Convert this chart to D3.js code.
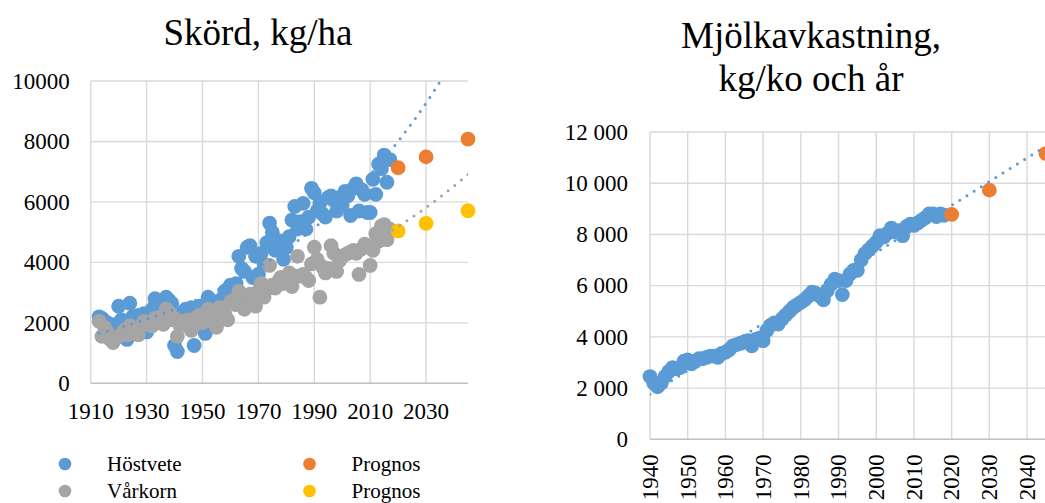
<!DOCTYPE html>
<html>
<head>
<meta charset="utf-8">
<script src="https://cdn.jsdelivr.net/npm/d3@7"></script>
<style>
body { margin: 0; background: #fff; }
text { font-family: "Liberation Serif", "Times New Roman", serif; fill: #000; }
</style>
</head>
<body>
<script>
// ---- data: Skörd, kg/ha ----
var hostveteStart = 1913;
var hostvete = [2200, 2150, 2050, 2000, 1750, 1600, 1950, 2550, 2100, 1900,
    1450, 2650, 2200, 2100, 2250, 2050, 2300, 1700, 2200, 2450,
    2800, 2600, 2500, 2300, 2850, 2750, 2650, 1250, 1050, 2100,
    2350, 2450, 2300, 2500, 1250, 2400, 2550, 2300, 1650, 2850,
    2750, 2200, 2600, 2400, 2800, 3050, 3100, 3250, 3000, 3300,
    4200, 3800, 3700, 4500, 4550, 3500, 4200, 3600, 4300, 3950,
    4650, 5300, 5000, 4400, 4600, 4700, 4100, 4500, 4850, 5400,
    5850, 5100, 5350, 5950, 5100, 5500, 6450, 6300, 5700, 5950,
    5600, 5500, 6150, 6200, 6050, 5700, 6150, 5900, 6350, 6200,
    5550, 6450, 6600, 5700, 6400, 6250, 5650, 5650, 6750, 6250,
    7250, 7100, 7550, 6650, 7400];

var varkornStart = 1913;
var varkorn = [2050, 1550, 1850, 1700, 1450, 1350, 1500, 1550, 1650, 1750,
    1600, 1900, 1800, 1650, 1600, 1900, 2050, 1950, 2000, 1900,
    2150, 2100, 2200, 1950, 2450, 2350, 2100, 2150, 1550, 1900,
    2050, 1950, 2100, 1750, 1900, 2200, 2250, 2000, 2100, 2450,
    2300, 2150, 1850, 2500, 2400, 2300, 2100, 2700, 2750, 2600,
    3050, 2850, 2450, 2800, 2950, 2900, 2550, 3050, 3300, 2850,
    3100, 3900, 3250, 3150, 3350, 3500, 3300, 3450, 3650, 3200,
    3550, 4200, 3550, 3600, 3500, 3400, 3950, 4500, 4100, 2850,
    3850, 3650, 3800, 4550, 4300, 3700, 4050, 4200, 4250, 4300,
    4350, 4400, 4300, 3600, 4450, 4600, 4550, 3900, 4400, 4950,
    4700, 5200, 5250, 4750, 5100];

var prognosYears = [2020, 2030, 2045];
var prognosHostvete = [7130, 7490, 8080];
var prognosVarkorn = [5040, 5290, 5710];

var skordXTicks = [1910, 1930, 1950, 1970, 1990, 2010, 2030];
var skordYTicks = [0, 2000, 4000, 6000, 8000, 10000];

// ---- data: Mjölkavkastning, kg/ko och år ----
var mjolkStart = 1940;
var mjolk = [2450, 2200, 2050, 2200, 2450, 2650, 2800, 2750, 2800, 3050,
    3100, 2950, 3050, 3150, 3150, 3200, 3250, 3250, 3200, 3350,
    3400, 3500, 3650, 3700, 3750, 3800, 3850, 3650, 3900, 3950,
    3850, 4250, 4450, 4550, 4500, 4700, 4850, 5000, 5150, 5250,
    5350, 5450, 5600, 5750, 5700, 5600, 5450, 5800, 6050, 6250,
    6200, 5650, 6200, 6450, 6600, 6600, 7000, 7250, 7400, 7550,
    7700, 7950, 7900, 8050, 8250, 8100, 8150, 7950, 8300, 8400,
    8350, 8450, 8550, 8650, 8800, 8800, 8700, 8800, 8750];
var prognosMjolk = [8780, 9730, 11160];

var mjolkXTicks = [1940, 1950, 1960, 1970, 1980, 1990, 2000, 2010, 2020, 2030, 2040];
var mjolkYTicks = [0, 2000, 4000, 6000, 8000, 10000, 12000];

var blue = "#5B9BD5", gray = "#A5A5A5", orange = "#ED7D31", yellow = "#FFC000";
var gridColor = "#D9D9D9";
var serif = '"Liberation Serif", "Times New Roman", serif';

function toPoints(start, values) {
    return values.map(function (v, i) { return { x: start + i, y: v }; });
}
function zipPts(xs, ys) {
    return xs.map(function (d, i) { return { x: d, y: ys[i] }; });
}

// least squares, Excel style trend lines
function linFit(pts) {
    var mx = d3.mean(pts, function (d) { return d.x; });
    var my = d3.mean(pts, function (d) { return d.y; });
    var sxy = d3.sum(pts, function (d) { return (d.x - mx) * (d.y - my); });
    var sxx = d3.sum(pts, function (d) { return (d.x - mx) * (d.x - mx); });
    var b = sxy / sxx;
    return function (x) { return my + b * (x - mx); };
}
function expFit(pts) {
    var f = linFit(pts.map(function (d) { return { x: d.x, y: Math.log(d.y) }; }));
    return function (x) { return Math.exp(f(x)); };
}

var svg = d3.select("body").append("svg")
    .attr("width", 1045)
    .attr("height", 503);

var defs = svg.append("defs");

function panel(opt) {
    var x = d3.scaleLinear().domain(opt.xDomain).range(opt.xRange);
    var y = d3.scaleLinear().domain(opt.yDomain).range(opt.yRange);

    defs.append("clipPath").attr("id", opt.id + "-clip")
        .append("rect")
        .attr("x", opt.xRange[0]).attr("y", opt.yRange[1])
        .attr("width", opt.xRange[1] - opt.xRange[0])
        .attr("height", opt.yRange[0] - opt.yRange[1]);

    var g = svg.append("g").attr("id", opt.id);

    // horizontal grid
    g.append("g").selectAll("line")
        .data(opt.yTicks.slice(1))
        .enter().append("line")
        .attr("x1", opt.xRange[0]).attr("x2", opt.xRange[1])
        .attr("y1", function (d) { return y(d); })
        .attr("y2", function (d) { return y(d); })
        .attr("stroke", gridColor).attr("stroke-width", 1.4);

    // vertical grid
    g.append("g").selectAll("line")
        .data(opt.xTicks)
        .enter().append("line")
        .attr("x1", function (d) { return x(d); })
        .attr("x2", function (d) { return x(d); })
        .attr("y1", opt.yRange[0]).attr("y2", opt.yRange[1])
        .attr("stroke", gridColor).attr("stroke-width", 1.4);

    // bottom axis line
    g.append("line")
        .attr("x1", opt.xRange[0]).attr("x2", opt.xRange[1])
        .attr("y1", opt.yRange[0]).attr("y2", opt.yRange[0])
        .attr("stroke", "#BFBFBF").attr("stroke-width", 1.4);

    // y labels
    g.append("g").selectAll("text")
        .data(opt.yTicks)
        .enter().append("text")
        .attr("x", opt.xRange[0] - opt.yLabelGap)
        .attr("y", function (d) { return y(d); })
        .attr("dy", "0.34em")
        .attr("text-anchor", "end")
        .attr("font-family", serif)
        .attr("font-size", 23)
        .text(opt.yFormat);

    // x labels
    var xl = g.append("g").selectAll("text")
        .data(opt.xTicks)
        .enter().append("text")
        .attr("font-family", serif)
        .attr("font-size", 23)
        .text(function (d) { return String(d); });
    if (opt.rotateX) {
        xl.attr("transform", function (d) {
                return "translate(" + x(d) + "," + (opt.yRange[0] + 15) + ") rotate(-90)";
            })
            .attr("text-anchor", "end")
            .attr("dy", "0.34em");
    } else {
        xl.attr("x", function (d) { return x(d); })
            .attr("y", opt.yRange[0] + 36)
            .attr("text-anchor", "middle");
    }

    // points
    opt.series.forEach(function (s) {
        g.append("g").selectAll("circle")
            .data(s.points)
            .enter().append("circle")
            .attr("cx", function (d) { return x(d.x); })
            .attr("cy", function (d) { return y(d.y); })
            .attr("r", 7.4)
            .attr("fill", s.color);
    });

    // trend lines drawn on top
    opt.trends.forEach(function (t) {
        var xs = d3.range(t.from, t.to + 0.01, 0.5);
        g.append("path")
            .datum(xs.map(function (xx) { return { x: xx, v: t.fn(xx) }; }))
            .attr("clip-path", "url(#" + opt.id + "-clip)")
            .attr("d", d3.line()
                .x(function (d) { return x(d.x); })
                .y(function (d) { return y(d.v); }))
            .attr("fill", "none")
            .attr("stroke", t.color)
            .attr("stroke-width", 3)
            .attr("stroke-linecap", "round")
            .attr("stroke-dasharray", "0 8.5");
    });

    // title
    var title = g.append("text")
        .attr("text-anchor", "middle")
        .attr("font-family", serif)
        .attr("font-size", 37);
    opt.title.forEach(function (t, i) {
        title.append("tspan")
            .attr("x", opt.titleX)
            .attr("y", opt.titleY + i * 43)
            .text(t);
    });
}

var hostvetePts = toPoints(hostveteStart, hostvete);
var varkornPts = toPoints(varkornStart, varkorn);
var mjolkPts = toPoints(mjolkStart, mjolk);

panel({
    id: "skord",
    xDomain: [1910, 2045], xRange: [90.7, 468],
    yDomain: [0, 10000], yRange: [383.3, 81],
    xTicks: skordXTicks, yTicks: skordYTicks,
    yFormat: d3.format("d"), yLabelGap: 21,
    rotateX: false,
    series: [
        { points: hostvetePts, color: blue },
        { points: varkornPts, color: gray },
        { points: zipPts(prognosYears, prognosHostvete), color: orange },
        { points: zipPts(prognosYears, prognosVarkorn), color: yellow }
    ],
    trends: [
        { fn: expFit(hostvetePts), from: hostveteStart, to: 2045, color: blue },
        { fn: expFit(varkornPts), from: varkornStart, to: 2045, color: gray }
    ],
    title: ["Skörd, kg/ha"], titleX: 258, titleY: 45
});

panel({
    id: "mjolk",
    xDomain: [1940, 2045], xRange: [650, 1045.9],
    yDomain: [0, 12000], yRange: [439.3, 132],
    xTicks: mjolkXTicks, yTicks: mjolkYTicks,
    yFormat: function (d) { return d3.format(",")(d).replace(/,/g, " "); },
    yLabelGap: 22,
    rotateX: true,
    series: [
        { points: mjolkPts, color: blue },
        { points: zipPts(prognosYears, prognosMjolk), color: orange }
    ],
    trends: [
        { fn: linFit(mjolkPts), from: mjolkStart, to: 2045, color: blue }
    ],
    title: ["Mjölkavkastning,", "kg/ko och år"], titleX: 811, titleY: 48
});

// legend
var legendItems = [
    { label: "Höstvete", color: blue, x: 65, y: 464 },
    { label: "Vårkorn", color: gray, x: 65, y: 491 },
    { label: "Prognos", color: orange, x: 309.5, y: 464 },
    { label: "Prognos", color: yellow, x: 309.5, y: 491 }
];
var legend = svg.append("g").attr("id", "legend");
legendItems.forEach(function (d) {
    legend.append("circle")
        .attr("cx", d.x).attr("cy", d.y).attr("r", 6.3)
        .attr("fill", d.color);
    legend.append("text")
        .attr("x", d.x + 42).attr("y", d.y + 7)
        .attr("font-family", serif)
        .attr("font-size", 21)
        .text(d.label);
});
</script>
</body>
</html>
